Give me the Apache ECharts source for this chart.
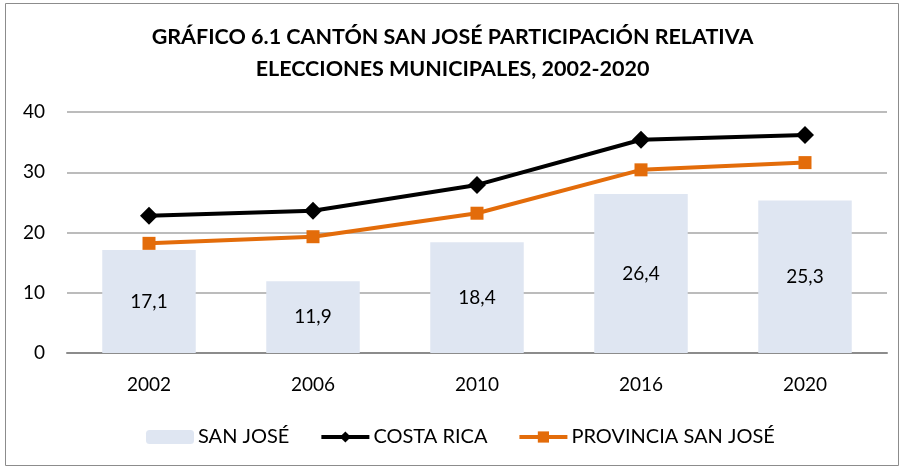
<!DOCTYPE html>
<html>
<head>
<meta charset="utf-8">
<script src="https://cdn.jsdelivr.net/npm/echarts@6/dist/echarts.min.js"></script>
<style>
  html, body { margin: 0; padding: 0; background: #fff; }
  #chart { width: 905px; height: 469px; }
</style>
</head>
<body>
<div id="chart"></div>
<script>
// datos
const years = ['2002', '2006', '2010', '2016', '2020']
const sanJose = [17.1, 11.9, 18.4, 26.4, 25.3]
const costaRica = [22.8, 23.6, 27.9, 35.4, 36.2]
const provinciaSanJose = [18.2, 19.3, 23.2, 30.4, 31.6]
const yTicks = [0, 10, 20, 30, 40]

const font = "Lato, 'Open Sans', sans-serif"

const chart = echarts.init(document.getElementById('chart'))
const option = {
  backgroundColor: '#fff',
  textStyle: { fontFamily: font },
  graphic: [{
    type: 'rect',
    shape: { x: 5.5, y: 3.5, width: 893, height: 462 },
    style: { fill: 'none', stroke: '#8c8c8c', lineWidth: 1 },
    silent: true
  }],
  title: {
    text: 'GRÁFICO 6.1 CANTÓN SAN JOSÉ PARTICIPACIÓN RELATIVA\nELECCIONES MUNICIPALES, 2002-2020',
    left: 'center',
    top: 16,
    textStyle: {
      fontFamily: font,
      fontWeight: 'bold',
      fontSize: 21.5,
      lineHeight: 32,
      color: '#000'
    }
  },
  legend: {
    top: 422,
    left: 141,
    itemGap: 30,
    itemWidth: 48,
    itemHeight: 14,
    textStyle: { fontFamily: font, fontSize: 20, color: '#000', padding: [0, 0, 0, -1] },
    data: [
      { name: 'SAN JOSÉ', itemStyle: { color: '#dfe6f2' } },
      { name: 'COSTA RICA', lineStyle: { width: 4 } },
      { name: 'PROVINCIA SAN JOSÉ', lineStyle: { width: 4 } }
    ]
  },
  grid: {
    left: 67,
    right: 18,
    top: 112,
    bottom: 116
  },
  xAxis: {
    type: 'category',
    data: years,
    axisTick: { show: false },
    axisLine: { lineStyle: { color: '#8c8c8c', width: 2 } },
    axisLabel: { color: '#000', fontSize: 19, margin: 22, fontFamily: font }
  },
  yAxis: {
    type: 'value',
    min: yTicks[0],
    max: yTicks[yTicks.length - 1],
    interval: 10,
    axisLine: { show: false },
    axisTick: { show: false },
    axisLabel: { color: '#000', fontSize: 19, margin: 22, fontFamily: font },
    splitLine: { lineStyle: { color: '#a6a6a6', width: 1.5 } }
  },
  series: [
    {
      name: 'SAN JOSÉ',
      type: 'bar',
      data: sanJose,
      barWidth: '57%',
      itemStyle: { color: '#dfe6f2' },
      label: {
        show: true,
        position: 'inside',
        color: '#000',
        fontSize: 19,
        fontFamily: font,
        formatter: p => String(p.value).replace('.', ',')
      },
      z: 1
    },
    {
      name: 'COSTA RICA',
      type: 'line',
      data: costaRica,
      symbol: 'diamond',
      symbolSize: 18,
      lineStyle: { color: '#000', width: 4 },
      itemStyle: { color: '#000' },
      z: 3
    },
    {
      name: 'PROVINCIA SAN JOSÉ',
      type: 'line',
      data: provinciaSanJose,
      symbol: 'rect',
      symbolSize: 13,
      lineStyle: { color: '#e36c0a', width: 4 },
      itemStyle: { color: '#e36c0a' },
      z: 2
    }
  ]
}
chart.setOption(option)
</script>
</body>
</html>
